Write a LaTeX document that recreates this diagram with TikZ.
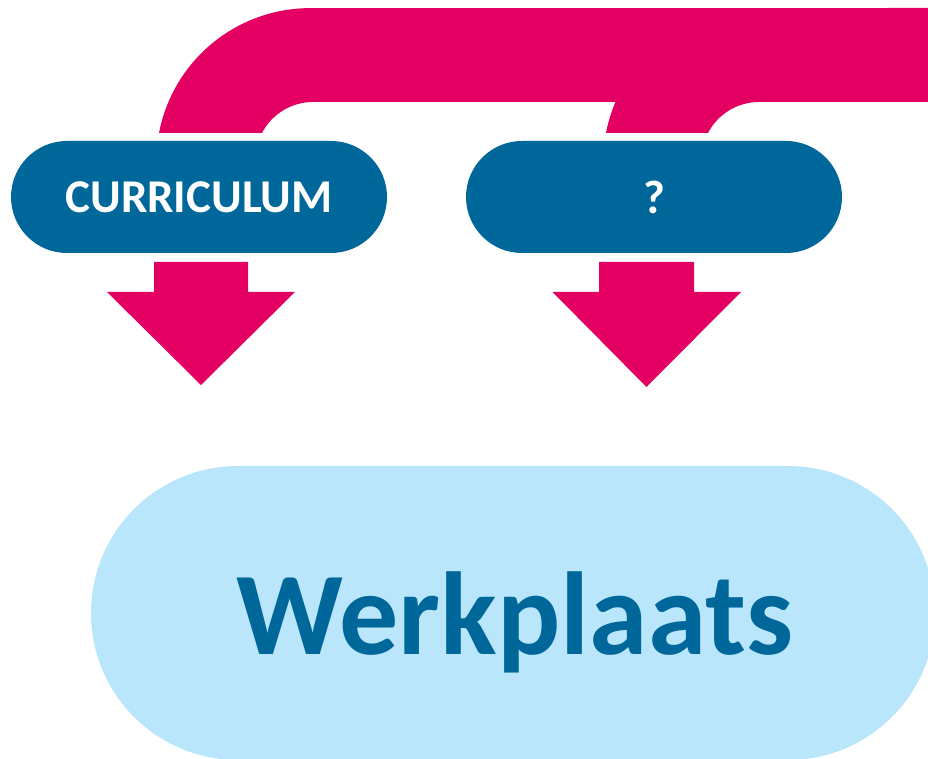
\documentclass[tikz,border=0pt]{standalone}
\usepackage{fontspec}
\setmainfont{Carlito}
\usetikzlibrary{shapes.misc,calc}
\definecolor{mag}{HTML}{E40062}
\definecolor{dblue}{HTML}{00679A}
\definecolor{lblue}{HTML}{BAE6FC}
\tikzset{
  pill/.style={rounded rectangle, fill=dblue, text=white, font=\bfseries\fontsize{47}{50}\selectfont,
    minimum width=376pt, minimum height=112pt, inner sep=0pt},
  bigpill/.style={rounded rectangle, fill=lblue, minimum width=844pt, minimum height=294pt, inner sep=0pt},
  downarrow/.style={fill=mag},
  band/.style={fill=mag}
}
\begin{document}
\begin{tikzpicture}[x=1pt,y=1pt]
\useasboundingbox (0,0) rectangle (928,758);
\clip (0,0) rectangle (928,758);
\fill[white] (0,0) rectangle (928,758);
% magenta band
\fill[band] (159,625) arc[start angle=169.1, end angle=90, radius=154] -- (928,750) -- (928,656) -- (313,656)
  arc[start angle=90, end angle=152.5, radius=57.5] -- cycle;
\fill[band] (606,625) arc[start angle=169.1, end angle=90, radius=154] -- (759,656)
  arc[start angle=90, end angle=152.5, radius=57.5] -- cycle;
% boxes
\node[pill] (cur) at (199,561) {CURRICULUM};
\node[pill] (q) at (654,561) {?};
% arrows
\coordinate (a1) at (201,496);
\coordinate (a2) at (646.5,496);
\fill[downarrow] ($(a1)+(-47,0)$) -- ++(94,0) -- ++(0,-30) -- ++(47,0) -- ($(a1)+(0,-123)$) -- ($(a1)+(-94,-30)$) -- ++(47,0) -- cycle;
\fill[downarrow] ($(a2)+(-47.5,0)$) -- ++(95,0) -- ++(0,-30) -- ++(47,0) -- ($(a2)+(0,-125)$) -- ($(a2)+(-94,-30)$) -- ++(46.5,0) -- cycle;
% Werkplaats
\node[bigpill] (wp) at (513,145) {};
\node[anchor=base, text=dblue, font=\bfseries\fontsize{118}{120}\selectfont, inner sep=0pt] (wpt) at (515,104) {Werkplaats};
\end{tikzpicture}
\end{document}
